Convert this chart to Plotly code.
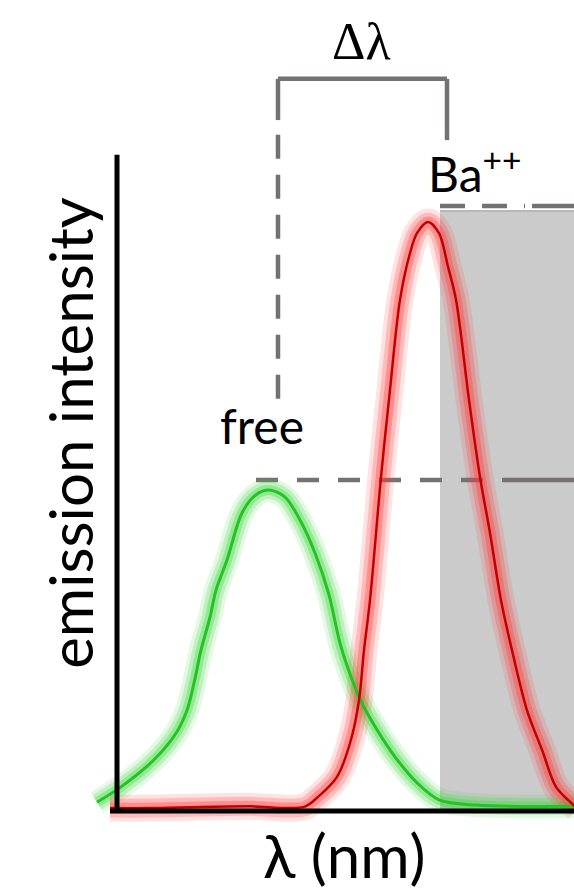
import plotly.graph_objects as go

# Emission spectra (arbitrary intensity, wavelength in nm)
green_wl = [440, 452, 468.5, 479.5, 485, 488.5, 492, 496.5, 499.5, 505, 512.5, 519.5,
            526, 534, 541.5, 549, 556, 561.5, 567, 572.5, 580, 589, 600, 611, 629.5, 678.5]
green_int = [0.015, 0.041, 0.087, 0.132, 0.171, 0.217, 0.273, 0.329, 0.375, 0.426, 0.506, 0.537,
             0.545, 0.533, 0.494, 0.438, 0.367, 0.285, 0.228, 0.183, 0.138, 0.092, 0.048, 0.019, 0.010, 0.008]

red_wl = [446.5, 466.5, 491.5, 516.5, 543.5, 550.5, 560, 567, 571, 573.5, 576.5, 582, 586.5,
          591.5, 596.5, 600, 605.5, 611, 615.5, 619.5, 626, 631.5, 636.5, 642, 647.5, 655,
          662.5, 669.5, 677, 680]
red_int = [0.005, 0.005, 0.007, 0.008, 0.007, 0.024, 0.058, 0.121, 0.188, 0.273, 0.358, 0.567, 0.715,
           0.868, 0.947, 0.981, 1.0, 0.981, 0.924, 0.868, 0.698, 0.567, 0.472, 0.358, 0.273, 0.171,
           0.104, 0.041, 0.014, 0.005]

labels = {"free": "free", "bound": "Ba<sup>++</sup>", "shift": "Δλ",
          "x": "λ (nm)", "y": "emission intensity"}

X_RANGE = [391.5, 678.5]
Y_RANGE = [-0.1375, 1.3769]
GREY = "#767171"

fig = go.Figure()

def glow(x, y, rgb, widths, alphas):
    for w, a in zip(widths, alphas):
        fig.add_trace(go.Scatter(x=x, y=y, mode="lines", hoverinfo="skip",
                                 line=dict(color=f"rgba({rgb},{a})", width=w,
                                           shape="spline", smoothing=0.9)))

glow(green_wl, green_int, "60,215,60", [24, 17, 10], [0.14, 0.22, 0.32])
glow(red_wl, red_int, "255,60,60", [27, 19, 11], [0.15, 0.24, 0.34])
fig.add_trace(go.Scatter(x=green_wl, y=green_int, mode="lines", hoverinfo="skip",
                         line=dict(color="rgb(35,195,35)", width=3, shape="spline", smoothing=0.9)))
fig.add_trace(go.Scatter(x=red_wl, y=red_int, mode="lines", hoverinfo="skip",
                         line=dict(color="rgb(195,0,0)", width=2.5, shape="spline", smoothing=0.9)))

shapes = [
    # detection window
    dict(type="rect", x0=611.5, x1=680, y0=0, y1=1.019, layer="below",
         fillcolor="rgb(204,203,203)", line=dict(width=0)),
    dict(type="line", x0=611.5, x1=680, y0=1.019, y1=1.019, layer="below",
         line=dict(color="rgb(165,163,163)", width=1.2)),
    # peak level guides
    dict(type="line", x0=519.5, x1=644, y0=0.562, y1=0.562, layer="below",
         line=dict(color=GREY, width=4.5, dash="22px,19px")),
    dict(type="line", x0=644, x1=680, y0=0.562, y1=0.562, layer="below",
         line=dict(color=GREY, width=4.5)),
    dict(type="line", x0=611.5, x1=654, y0=1.027, y1=1.027, layer="below",
         line=dict(color=GREY, width=4.5, dash="25px,17px")),
    dict(type="line", x0=657.5, x1=680, y0=1.027, y1=1.027, layer="below",
         line=dict(color=GREY, width=4.5)),
    # shift bracket
    dict(type="line", x0=530.5, x1=530.5, y0=1.243, y1=1.173, layer="below",
         line=dict(color=GREY, width=4.5)),
    dict(type="line", x0=530.5, x1=530.5, y0=1.148, y1=0.686, layer="below",
         line=dict(color=GREY, width=4.5, dash="24px,16px")),
    dict(type="line", x0=530.5, x1=615, y0=1.243, y1=1.243, layer="below",
         line=dict(color=GREY, width=4.5)),
    dict(type="line", x0=615, x1=615, y0=1.243, y1=1.139, layer="below",
         line=dict(color=GREY, width=4.5)),
    # axes
    dict(type="line", x0=450, x1=450, y0=0, y1=1.114, layer="above",
         line=dict(color="black", width=5)),
    dict(type="line", x0=446.5, x1=680, y0=0, y1=0, layer="above",
         line=dict(color="black", width=5)),
]

annotations = [
    dict(x=572.25, y=1.307, text=labels["shift"], showarrow=False,
         font=dict(family="Liberation Serif", size=52, color="black")),
    dict(x=604.5, y=1.087, text=labels["bound"], showarrow=False, xanchor="left",
         font=dict(family="Lato", size=48, color="black")),
    dict(x=522.25, y=0.655, text=labels["free"], showarrow=False,
         font=dict(family="Lato", size=48, color="black")),
    dict(x=563.75, y=-0.075, text=labels["x"], showarrow=False,
         font=dict(family="Lato", size=60, color="black")),
    dict(x=426.5, y=0.642, text=labels["y"], showarrow=False, textangle=-90,
         font=dict(family="Lato", size=60, color="black")),
]

fig.update_layout(
    width=574, height=892, margin=dict(l=0, r=0, t=0, b=0),
    paper_bgcolor="white", plot_bgcolor="white", showlegend=False,
    xaxis=dict(range=X_RANGE, visible=False, fixedrange=True),
    yaxis=dict(range=Y_RANGE, visible=False, fixedrange=True),
    shapes=shapes, annotations=annotations,
)

fig.write_html("out.html", config={"displayModeBar": False})
